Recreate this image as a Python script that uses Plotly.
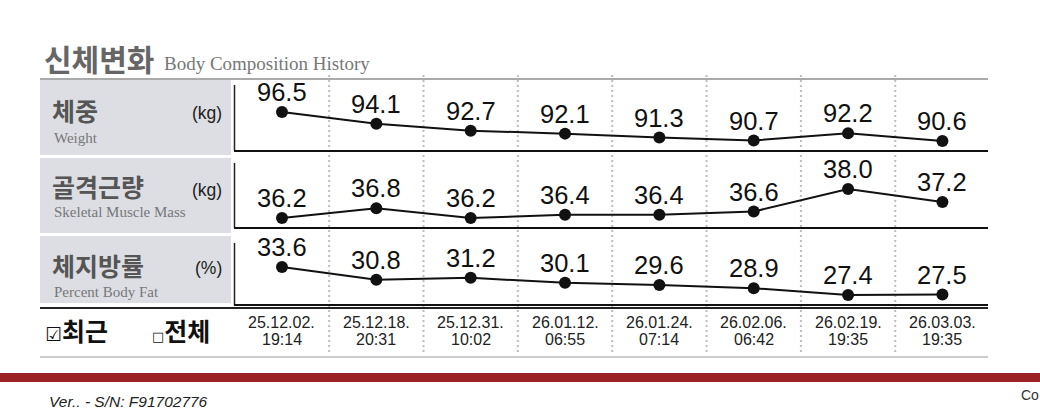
import plotly.graph_objects as go

# ---- data ----
dates = ["25.12.02.", "25.12.18.", "25.12.31.", "26.01.12.", "26.01.24.", "26.02.06.", "26.02.19.", "26.03.03."]
times = ["19:14", "20:31", "10:02", "06:55", "07:14", "06:42", "19:35", "19:35"]
weight = [96.5, 94.1, 92.7, 92.1, 91.3, 90.7, 92.2, 90.6]
muscle = [36.2, 36.8, 36.2, 36.4, 36.4, 36.6, 38.0, 37.2]
fat = [33.6, 30.8, 31.2, 30.1, 29.6, 28.9, 27.4, 27.5]
panel_kr = ["체중", "골격근량", "체지방률"]
panel_en = ["Weight", "Skeletal Muscle Mass", "Percent Body Fat"]
panel_unit = ["(kg)", "(kg)", "(%)"]
title_kr = "신체변화"
title_en = "Body Composition History"
opt_recent = "최근"
opt_all = "전체"
footer = "Ver.. - S/N: F91702776"

W, H = 1040, 419
def fx(px): return px / W
def fy(px): return 1 - px / H

# layout geometry (pixels)
panels = [
    dict(vals=weight, top=85, bot=151, pt=27, pb=10, box=(80, 155), kr=110, en=138, unit=113),
    dict(vals=muscle, top=163, bot=228, pt=26, pb=10, box=(158, 233), kr=186, en=212, unit=190),
    dict(vals=fat, top=243, bot=305, pt=24, pb=10, box=(236, 303), kr=265, en=292, unit=268),
]
PL, PR = 234.8, 989.6
LX = 40

fig = go.Figure()
shapes = []
annotations = []
xs = list(range(len(dates)))

for k, p in enumerate(panels):
    n = "" if k == 0 else str(k + 1)
    vals = p["vals"]
    vmin, vmax = min(vals), max(vals)
    s = ((p["bot"] - p["pb"]) - (p["top"] + p["pt"])) / (vmax - vmin)
    lo = vmin - p["pb"] / s
    hi = vmax + p["pt"] / s
    fig.add_trace(go.Scatter(
        x=xs, y=vals, mode="lines+markers",
        line=dict(color="#111", width=2), marker=dict(size=12, color="#111"),
        xaxis="x" + n, yaxis="y" + n, cliponaxis=False, showlegend=False, hoverinfo="skip"))
    for i, v in zip(xs, vals):
        annotations.append(dict(text=f"{v:.1f}", xref="x" + n, yref="y" + n, x=i, y=v,
                                xanchor="center", yanchor="middle", yshift=20, showarrow=False,
                                font=dict(family="Liberation Sans, Arial", size=25.5, color="#111")))
    fig.update_layout(**{
        "xaxis" + n: dict(domain=[fx(PL), fx(PR)], range=[-0.5, len(dates) - 0.5], visible=False,
                          anchor="y" + n, fixedrange=True),
        "yaxis" + n: dict(domain=[fy(p["bot"]), fy(p["top"])], range=[lo, hi], visible=False,
                          anchor="x" + n, fixedrange=True),
    })
    # label box
    shapes.append(dict(type="rect", xref="paper", yref="paper", x0=fx(LX), x1=fx(231),
                       y0=fy(p["box"][1]), y1=fy(p["box"][0]), fillcolor="#dcdee3",
                       line=dict(width=0), layer="below"))
    # axis frame lines
    shapes.append(dict(type="line", xref="paper", yref="paper", x0=fx(234.5), x1=fx(234.5),
                       y0=fy(p["bot"]), y1=fy(p["top"]), line=dict(color="#222", width=1.5)))
    shapes.append(dict(type="line", xref="paper", yref="paper", x0=fx(234), x1=fx(988),
                       y0=fy(p["bot"]), y1=fy(p["bot"]), line=dict(color="#111", width=2)))
    annotations += [
        dict(text=f"<b>{panel_kr[k]}</b>", xref="paper", yref="paper", x=fx(50), y=fy(p["kr"]),
             xanchor="left", yanchor="middle", showarrow=False,
             font=dict(family="Noto Sans CJK KR", size=25, color="#555")),
        dict(text=panel_en[k], xref="paper", yref="paper", x=fx(52), y=fy(p["en"]),
             xanchor="left", yanchor="middle", showarrow=False,
             font=dict(family="Liberation Serif, Times New Roman", size=15, color="#777")),
        dict(text=panel_unit[k], xref="paper", yref="paper", x=fx(224), y=fy(p["unit"]),
             xanchor="right", yanchor="middle", showarrow=False,
             font=dict(family="Liberation Sans, Arial", size=17.5, color="#222")),
    ]

# extra bottom line under the table
shapes.append(dict(type="line", xref="paper", yref="paper", x0=fx(40), x1=fx(988),
                   y0=fy(308), y1=fy(308), line=dict(color="#222", width=2)))
# top gray line
shapes.append(dict(type="line", xref="paper", yref="paper", x0=fx(40), x1=fx(988),
                   y0=fy(79), y1=fy(79), line=dict(color="#aaa", width=2)))
# bottom gray line
shapes.append(dict(type="line", xref="paper", yref="paper", x0=fx(40), x1=fx(988),
                   y0=fy(357), y1=fy(357), line=dict(color="#bbb", width=1.5)))
# dotted column separators
for i in range(len(dates) - 1):
    shapes.append(dict(type="line", xref="x3", yref="paper", x0=i + 0.5, x1=i + 0.5,
                       y0=fy(352), y1=fy(72), line=dict(color="#bdbdbd", width=2, dash="2px,3px"),
                       layer="below"))
# red bar
shapes.append(dict(type="rect", xref="paper", yref="paper", x0=0, x1=1, y0=fy(382), y1=fy(373),
                   fillcolor="#9b2222", line=dict(width=0)))

# date labels
for i in xs:
    annotations.append(dict(text=dates[i], xref="x3", yref="paper", x=i, y=fy(322),
                            xanchor="center", yanchor="middle", showarrow=False,
                            font=dict(family="Liberation Sans, Arial", size=16, color="#222")))
    annotations.append(dict(text=times[i], xref="x3", yref="paper", x=i, y=fy(339),
                            xanchor="center", yanchor="middle", showarrow=False,
                            font=dict(family="Liberation Sans, Arial", size=16, color="#222")))

# titles
annotations += [
    dict(text=f"<b>{title_kr}</b>", xref="paper", yref="paper", x=fx(42), y=fy(58),
         xanchor="left", yanchor="middle", showarrow=False,
         font=dict(family="Noto Sans CJK KR", size=30, color="#666")),
    dict(text=title_en, xref="paper", yref="paper", x=fx(162), y=fy(63),
         xanchor="left", yanchor="middle", showarrow=False,
         font=dict(family="Liberation Serif, Times New Roman", size=19, color="#777")),
    dict(text=f"<span style='font-family:DejaVu Sans;font-size:19px'>☑</span><b>{opt_recent}</b>",
         xref="paper", yref="paper", x=fx(43), y=fy(330),
         xanchor="left", yanchor="middle", showarrow=False,
         font=dict(family="Noto Sans CJK KR", size=25, color="#111")),
    dict(text=f"<span style='font-family:DejaVu Sans;font-size:13px'>□</span><b>{opt_all}</b>",
         xref="paper", yref="paper", x=fx(150), y=fy(330),
         xanchor="left", yanchor="middle", showarrow=False,
         font=dict(family="Noto Sans CJK KR", size=25, color="#111")),
    dict(text=f"<i>{footer}</i>", xref="paper", yref="paper", x=fx(47), y=fy(401),
         xanchor="left", yanchor="middle", showarrow=False,
         font=dict(family="Liberation Sans Narrow, Liberation Sans, Arial", size=15.5, color="#222")),
    dict(text="Co", xref="paper", yref="paper", x=fx(1019), y=fy(395),
         xanchor="left", yanchor="middle", showarrow=False,
         font=dict(family="Liberation Sans, Arial", size=14, color="#333")),
]

fig.update_layout(width=W, height=H, margin=dict(l=0, r=0, t=0, b=0),
                  paper_bgcolor="white", plot_bgcolor="rgba(0,0,0,0)",
                  shapes=shapes, annotations=annotations, showlegend=False)
fig.write_html("out.html", config={"displayModeBar": False},
               post_script="document.body.style.margin='0';document.documentElement.style.overflow='hidden';document.body.style.overflow='hidden';")
